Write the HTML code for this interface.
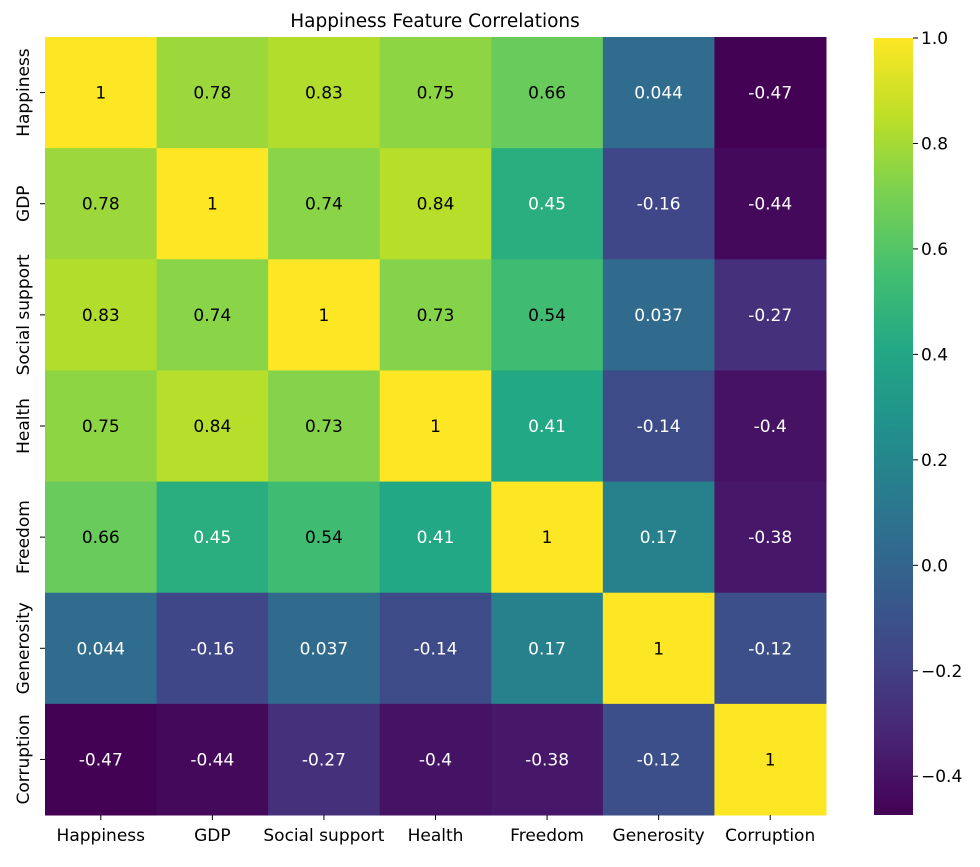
<!DOCTYPE html>
<html><head><meta charset="utf-8"><style>
body{margin:0;background:#fff;font-family:"Liberation Sans","DejaVu Sans",sans-serif}
svg text{font-family:"DejaVu Sans","Liberation Sans",sans-serif}
</style></head><body>
<svg id="chart" width="980" height="862" xmlns="http://www.w3.org/2000/svg">
<text x="435" y="27" text-anchor="middle" font-size="18.5">Happiness Feature Correlations</text>
<g id="cells"></g><g id="xlab"></g><g id="ylab"></g><g id="cbar"></g>
</svg>
<script>
const labels=["Happiness","GDP","Social support","Health","Freedom","Generosity","Corruption"];
const row0=[1,0.78,0.83,0.75,0.66,0.044,-0.47];
const row1=[0.78,1,0.74,0.84,0.45,-0.16,-0.44];
const row2=[0.83,0.74,1,0.73,0.54,0.037,-0.27];
const row3=[0.75,0.84,0.73,1,0.41,-0.14,-0.4];
const row4=[0.66,0.45,0.54,0.41,1,0.17,-0.38];
const row5=[0.044,-0.16,0.037,-0.14,0.17,1,-0.12];
const row6=[-0.47,-0.44,-0.27,-0.4,-0.38,-0.12,1];
const matrix=[row0,row1,row2,row3,row4,row5,row6];
const cbTicks=[-0.4,-0.2,0.0,0.2,0.4,0.6,0.8,1.0];
const vmin=-0.4735,vmax=1;
const L=45,T=37,W=781,H=778;
const cw=W/7,ch=H/7;
const vir=["#440154","#482475","#414487","#355f8d","#2a788e","#21918c","#22a884","#44bf70","#7ad151","#bddf26","#fde725"];
function hx(h){return [1,3,5].map(i=>parseInt(h.substr(i,2),16));}
function frac(v){return Math.max(0,Math.min(1,(v-vmin)/(vmax-vmin)));}
function cmap(v){let t=frac(v)*10;let i=Math.min(9,Math.floor(t));let f=t-i;
 let a=hx(vir[i]),b=hx(vir[i+1]);return a.map((x,k)=>Math.round(x+(b[k]-x)*f));}
const NS="http://www.w3.org/2000/svg";
function mk(tag,attrs,parent){const e=document.createElementNS(NS,tag);for(const k in attrs)e.setAttribute(k,attrs[k]);parent.appendChild(e);return e;}
const cells=document.getElementById('cells');
matrix.forEach((row,r)=>row.forEach((v,c)=>{
 const col=cmap(v);
 const rect=mk('rect',{x:L+c*cw,y:T+r*ch,width:cw+0.5,height:ch+0.5,fill:`rgb(${col})`},cells);
 
 
 const t=mk('text',{x:L+(c+0.5)*cw,y:T+(r+0.5)*ch+6,'text-anchor':'middle','font-size':'17',fill:frac(v)>0.64?'#000':'#fff'},cells);
 t.textContent=String(v);
 
 
}));
const xl=document.getElementById('xlab'),yl=document.getElementById('ylab');
labels.forEach((s,i)=>{
 const x=L+(i+0.5)*cw;
 mk('line',{x1:x,x2:x,y1:T+H,y2:T+H+5,stroke:'#000'},xl);
 const t=mk('text',{x:x,y:T+H+26,'text-anchor':'middle','font-size':'17'},xl);t.textContent=s;
 
 
 const y=T+(i+0.5)*ch;
 mk('line',{x1:L-5,x2:L,y1:y,y2:y,stroke:'#000'},yl);
 const u=mk('text',{x:0,y:0,'text-anchor':'middle','font-size':'17',transform:`translate(${L-16},${y}) rotate(-90)`},yl);u.textContent=s;
 
 
});
const cb=document.getElementById('cbar');
const cx=874,cwid=39,ct=38,cbh=777;
const defs=mk('defs',{},cb);const g=mk('linearGradient',{id:'vg',x1:0,y1:1,x2:0,y2:0},defs);
vir.forEach((c,i)=>mk('stop',{offset:i/10,'stop-color':c},g));
const bar=mk('rect',{x:cx,y:ct,width:cwid,height:cbh,fill:'url(#vg)'},cb);


cbTicks.forEach(v=>{
 const y=ct+cbh*(1-(v-vmin)/(vmax-vmin));
 mk('line',{x1:cx+cwid,x2:cx+cwid+5,y1:y,y2:y,stroke:'#000'},cb);
 const t=mk('text',{x:cx+cwid+8,y:y+6,'font-size':'17'},cb);
 t.textContent=(v<0?'\u2212'+Math.abs(v).toFixed(1):v.toFixed(1));
 
 
});
</script>
</body></html>
